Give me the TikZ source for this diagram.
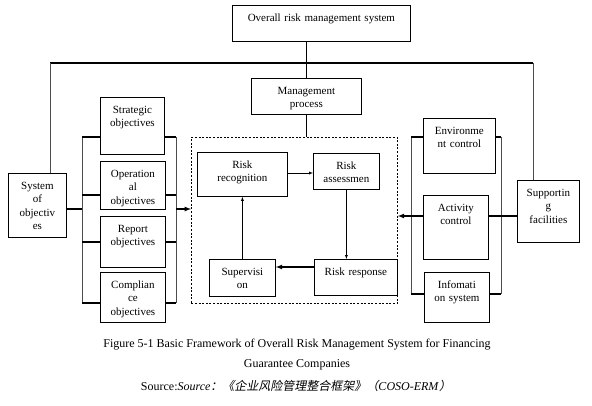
\documentclass[tikz,border=0pt]{standalone}
\usepackage{fontspec}
\setmainfont{Liberation Serif}
\newfontfamily\cjkfont[FakeSlant=0.2]{Noto Sans CJK SC}
\begin{document}
\begin{tikzpicture}[x=1pt,y=-1pt,>=latex,
    font=\fontsize{11}{13.5}\selectfont,
    box/.style={draw,line width=0.8pt,anchor=north west,align=center,
      inner sep=0pt,text height=16pt},
    link/.style={line width=1.2pt},
    rail/.style={line width=0.5pt,black!70},
    captext/.style={font=\fontsize{12}{14}\selectfont}]
  \useasboundingbox (0,0) rectangle (592,405);
  % boxes
  \node[box,text width=178pt,text depth=20pt] (overall) at (232,5) {Overall risk management system};
  \node[box,text width=110pt,text depth=20pt] (mgmt) at (251,78) {Management\\process};
  \node[draw,dash pattern=on 2pt off 1.6pt,line width=0.8pt,anchor=north west,
    minimum width=206pt,minimum height=166pt] (proc) at (191,137) {};
  \node[box,text width=64pt,text depth=41pt] (strat) at (100,97) {Strategic\\objectives};
  \node[box,text width=65pt,text depth=32pt] (oper) at (100,161) {Operation\\al\\objectives};
  \node[box,text width=65pt,text depth=35pt] (report) at (100,216) {Report\\objectives};
  \node[box,text width=65pt,text depth=34pt] (compl) at (100,272) {Complian\\ce\\objectives};
  \node[box,text width=58pt,text depth=48pt] (sysobj) at (8,173) {System\\of\\objectiv\\es};
  \node[box,text width=90pt,text depth=28pt] (riskrec) at (197,152) {Risk\\recognition};
  \node[box,text width=66pt,text depth=20pt] (riskass) at (313,153) {Risk\\assessmen};
  \node[box,text width=83pt,text depth=20pt] (riskresp) at (314,259) {Risk response};
  \node[box,text width=66pt,text depth=21pt] (superv) at (209,259) {Supervisi\\on};
  \node[box,text width=72pt,text depth=39pt] (env) at (423,118) {Environme\\nt control};
  \node[box,text width=65pt,text depth=48pt] (act) at (423,195) {Activity\\control};
  \node[box,text width=65pt,text depth=34pt] (info) at (424,272) {Infomati\\on system};
  \node[box,text width=62pt,text depth=46pt] (supp) at (517,180) {Supportin\\g\\facilities};
  % top bus
  \coordinate (busL) at (50,63);
  \coordinate (busR) at (533,63);
  \draw[rail,black] (overall.south -| mgmt.north) -- (mgmt.north);
  \draw[line width=1.5pt] (busL) -- (busR);
  \draw[rail] (busL) -- (busL |- sysobj.north);
  \draw[rail] (busR) -- (busR |- supp.north);
  \draw[rail,black] (mgmt.south) -- (mgmt.south |- proc.north);
  % objective brackets
  \draw[rail] (82,137) -- (82,303);
  \draw[rail] (176,137) -- (176,303);
  \foreach \n/\y in {strat/137,oper/195,report/242,compl/303}{
    \draw[link] (82,\y) -- (\n.west |- 0,\y);
    \draw[link] (\n.east |- 0,\y) -- (176,\y);
  }
  \draw[link] (sysobj.east |- 0,209) -- (82,209);
  \draw[link,->] (176,209) -- (proc.west |- 0,209);
  % control brackets
  \draw[rail] (411,137) -- (411,294);
  \draw[rail] (501,137) -- (501,294);
  \foreach \n/\y in {env/137,info/294}{
    \draw[link] (411,\y) -- (\n.west |- 0,\y);
    \draw[link] (\n.east |- 0,\y) -- (501,\y);
  }
  \draw[link] (supp.west |- 0,216) -- (act.east |- 0,216);
  \draw[link,->] (act.west |- 0,216) -- (proc.east |- 0,216);
  % process loop
  \draw[->] (riskrec.east |- 0,173) -- (riskass.west |- 0,173);
  \draw[->] (riskass.south) -- (riskass.south |- riskresp.north);
  \draw[link,->] (riskresp.west |- 0,267) -- (superv.east |- 0,267);
  \draw[->] (superv.north) -- (superv.north |- riskrec.south);
  % caption
  \node[captext] (cap) at (297,345) {Figure 5-1 Basic Framework of Overall Risk Management System for Financing};
  \node[captext] (cap2) at (297,365) {Guarantee Companies};
  \node[captext] (src) at (296,386) {Source:\textit{Source}{\cjkfont ：《企业风险管理整合框架》（}\textit{COSO-ERM}{\cjkfont ）}};
\end{tikzpicture}
\end{document}
